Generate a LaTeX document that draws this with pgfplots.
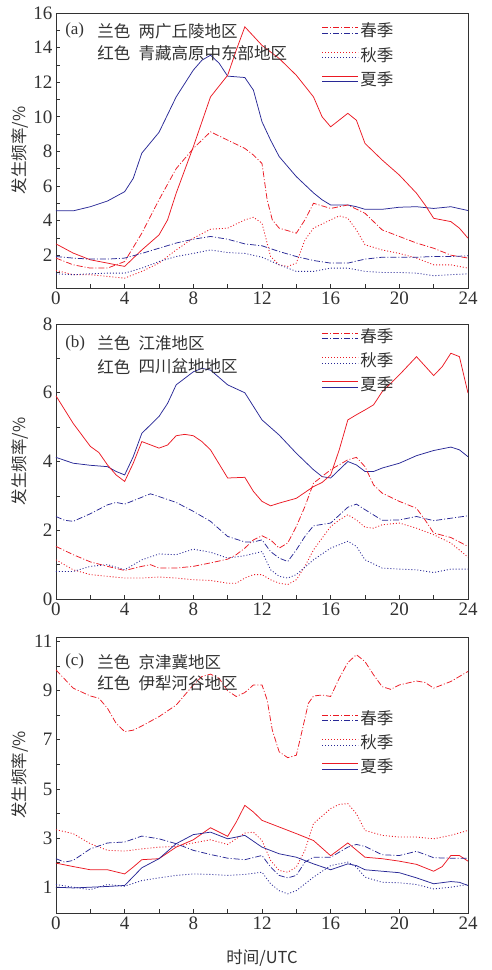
\documentclass[border=0pt]{standalone}
\usepackage{fontspec}
\setmainfont{Liberation Serif}
\newfontfamily\cjk{Noto Sans CJK SC}
\usepackage{pgfplots}
\pgfplotsset{compat=1.18}
\definecolor{myred}{RGB}{235,25,35}
\definecolor{myblue}{RGB}{40,40,150}
\definecolor{txt}{RGB}{50,50,50}
\tikzset{
  sp/.style={line width=0.75pt, dash pattern=on 6pt off 2pt on 1pt off 2pt},
  au/.style={line width=0.85pt, dash pattern=on 1pt off 2pt},
  su/.style={line width=0.75pt},
}
\pgfplotsset{
  panel/.style={
    scale only axis, width=412pt, xmin=0, xmax=24,
    xtick={0,4,...,24}, minor xtick={2,6,...,22},
    xtick pos=bottom, ytick pos=left, tick align=inside,
    major tick length=4pt, minor tick length=4pt,
    every tick/.style={txt, line width=0.6pt},
    axis line style={txt, line width=0.8pt},
    /pgf/number format/assume math mode=true,
    tick label style={font=\fontsize{19}{19}\selectfont, text=txt},
    every axis y label/.style={at={(axis description cs:-0.087,0.5)}, rotate=90, anchor=center, font=\cjk\fontsize{16.5}{16.5}\selectfont, text=txt},
    ylabel={发生频率/\%},
    legend style={draw=none, fill=none, font=\cjk\fontsize{16.5}{16.5}\selectfont, text=txt, row sep=6pt, inner sep=0pt, nodes={inner sep=1.5pt}},
    legend cell align=left,
  },
}
\newcommand{\leg}{%
  \addlegendimage{legend image code/.code={\draw[myred,sp] (0pt,3pt)--(36pt,3pt); \draw[myblue,sp] (0pt,-2.5pt)--(36pt,-2.5pt);}}
  \addlegendentry{春季}
  \addlegendimage{legend image code/.code={\draw[myred,au] (0pt,3pt)--(36pt,3pt); \draw[myblue,au] (0pt,-2.5pt)--(36pt,-2.5pt);}}
  \addlegendentry{秋季}
  \addlegendimage{legend image code/.code={\draw[myred,su] (0pt,3pt)--(36pt,3pt); \draw[myblue,su] (0pt,-2.5pt)--(36pt,-2.5pt);}}
  \addlegendentry{夏季}
}
\newcommand{\ann}[3]{%
  \node[anchor=west, font=\fontsize{17}{17}\selectfont, text=txt, inner sep=0pt] at (axis description cs:0.022,#1) {(#2)};
  \node[anchor=west, font=\cjk\fontsize{16.5}{16.5}\selectfont, text=txt, inner sep=0pt] at (axis description cs:0.1,#1) {兰色};
  \node[anchor=west, font=\cjk\fontsize{16.5}{16.5}\selectfont, text=txt, inner sep=0pt] at (axis description cs:0.2,#1) {#3};
}
\newcommand{\annb}[2]{%
  \node[anchor=west, font=\cjk\fontsize{16.5}{16.5}\selectfont, text=txt, inner sep=0pt] at (axis description cs:0.1,#1) {红色};
  \node[anchor=west, font=\cjk\fontsize{16.5}{16.5}\selectfont, text=txt, inner sep=0pt] at (axis description cs:0.2,#1) {#2};
}
\begin{document}
\begin{tikzpicture}
\path[use as bounding box] (-56pt,13pt) rectangle (435pt,-957pt);
% ---------------- (a)
\begin{axis}[panel, at={(0pt,0pt)}, anchor=north west, height=275pt,
  ymin=0.1, ymax=16, ytick={2,4,...,16}, minor ytick={1,3,...,15},
  legend style={at={(axis description cs:0.645,0.97)}, anchor=north west}]
\leg
\addplot[myblue,su,forget plot] coordinates {(0,4.56)(1,4.56)(2,4.8)(3,5.13)(4,5.67)(4.5,6.44)(5,7.9)(6,9.1)(7,11.15)(8,12.7)(8.5,13.27)(9,13.56)(9.5,13.1)(10,12.35)(11,12.27)(11.5,11.54)(12,9.71)(12.5,8.65)(13,7.7)(14,6.54)(15,5.6)(15.5,5.2)(16,4.9)(17,4.9)(17.5,4.8)(18,4.65)(19,4.65)(20,4.77)(21,4.8)(22,4.7)(23,4.8)(24,4.58)};
\addplot[myred,su,forget plot] coordinates {(0,2.65)(1,2.12)(2,1.73)(3,1.54)(3.5,1.44)(4,1.35)(5,2.3)(6,3.17)(6.5,4.04)(7,5.58)(8,8.27)(9,11.15)(10,12.4)(10.5,13.85)(11,15.2)(12,14.13)(13,13.37)(14,12.4)(15,11.15)(15.5,10)(16,9.42)(17,10.2)(17.5,9.8)(18,8.46)(19,7.5)(20,6.63)(21,5.58)(21.5,4.9)(22,4.13)(23,3.94)(23.5,3.56)(24,2.98)};
\addplot[myred,sp,forget plot] coordinates {(0,1.83)(1,1.44)(2,1.25)(3,1.25)(4,1.63)(5,3.27)(6,5.2)(7,7.0)(8,8.17)(9,9.13)(10,8.65)(11,8.17)(11.5,7.79)(12,7.3)(12.3,5.2)(12.6,4.04)(13,3.56)(14,3.27)(14.5,4.04)(15,5.0)(16,4.7)(17,4.9)(18,4.42)(19,3.46)(20,3.08)(21,2.7)(22,2.4)(23,2.0)(24,1.83)};
\addplot[myred,au,forget plot] coordinates {(0,1.12)(1,0.87)(2,0.87)(3,0.77)(4,0.67)(5,1.06)(6,1.54)(7,2.3)(8,2.98)(9,3.5)(10,3.56)(11,4.04)(11.5,4.19)(12,3.85)(12.5,1.92)(13,1.44)(13.5,1.35)(14,1.54)(14.5,2.88)(15,3.56)(16,4.04)(16.5,4.27)(17,4.13)(17.5,3.46)(18,2.6)(19,2.3)(20,2.1)(21,1.83)(22,1.44)(23,1.44)(24,1.25)};
\addplot[myblue,sp,forget plot] coordinates {(0,1.92)(1,1.83)(2,1.77)(3,1.77)(4,1.83)(5,2.1)(6,2.4)(7,2.7)(8,2.92)(9,3.08)(10,2.92)(11,2.65)(12,2.54)(13,2.21)(14,1.92)(15,1.69)(16,1.54)(17,1.54)(18,1.77)(19,1.88)(20,1.88)(21,1.88)(22,1.92)(23,1.92)(24,1.96)};
\addplot[myblue,au,forget plot] coordinates {(0,0.92)(1,0.87)(2,0.92)(3,0.96)(4,0.96)(5,1.25)(6,1.63)(7,1.92)(8,2.1)(9,2.3)(10,2.15)(11,2.1)(12,1.88)(13,1.44)(14,1.06)(15,1.06)(16,1.25)(17,1.25)(18,1.06)(19,1.0)(20,1.0)(21,0.96)(22,0.81)(23,0.87)(24,0.92)};
\ann{0.935}{a}{两广丘陵地区}
\annb{0.855}{青藏高原中东部地区}
\end{axis}
% ---------------- (b)
\begin{axis}[panel, at={(0pt,-311pt)}, anchor=north west, height=275pt,
  ymin=0, ymax=8, ytick={0,2,...,8}, minor ytick={1,3,...,7},
  legend style={at={(axis description cs:0.645,0.99)}, anchor=north west}]
\leg
\addplot[myblue,su,forget plot] coordinates {(0,4.12)(1,3.95)(2,3.89)(3,3.85)(3.5,3.71)(4,3.61)(4.5,4.14)(5,4.82)(6,5.31)(6.5,5.69)(7,6.23)(8,6.61)(8.5,6.71)(9,6.66)(10,6.23)(11,6.0)(12,5.21)(13,4.77)(14,4.24)(15,3.76)(15.5,3.56)(16,3.52)(16.5,3.76)(17,4.0)(17.5,3.9)(18,3.71)(18.5,3.71)(19,3.81)(20,3.95)(21,4.17)(22,4.32)(23,4.42)(23.5,4.34)(24,4.14)};
\addplot[myred,su,forget plot] coordinates {(0,5.91)(1,5.11)(2,4.44)(2.5,4.26)(3,3.9)(3.5,3.61)(4,3.42)(4.5,3.95)(5,4.58)(6,4.39)(6.5,4.48)(7,4.75)(7.5,4.79)(8,4.75)(8.5,4.58)(9,4.34)(10,3.52)(11,3.54)(11.5,3.13)(12,2.84)(12.5,2.71)(13,2.79)(14,2.93)(15,3.27)(15.5,3.39)(16,3.61)(16.5,4.34)(17,5.21)(17.5,5.36)(18,5.5)(18.5,5.65)(19,6.03)(20,6.52)(21,7.05)(22,6.5)(22.5,6.76)(23,7.15)(23.5,7.05)(24,5.99)};
\addplot[myred,sp,forget plot] coordinates {(0,1.53)(1,1.29)(2,1.08)(3,0.95)(4,0.83)(5,0.95)(5.5,1.0)(6,0.9)(7,0.9)(8,0.95)(9,1.05)(10,1.16)(10.5,1.29)(11,1.48)(11.5,1.72)(12,1.84)(12.5,1.72)(13,1.48)(13.5,1.63)(14,2.11)(14.5,2.69)(15,3.37)(16,3.76)(17,4.05)(17.5,4.12)(18,3.85)(18.5,3.32)(19,3.08)(20,2.84)(21,2.64)(21.5,2.3)(22,1.92)(23,1.79)(24,1.53)};
\addplot[myred,au,forget plot] coordinates {(0,1.14)(1,0.85)(2,0.71)(3,0.66)(4,0.61)(5,0.61)(6,0.64)(7,0.61)(8,0.56)(9,0.54)(10,0.46)(10.5,0.46)(11,0.61)(11.5,0.71)(12,0.71)(12.5,0.56)(13,0.46)(13.5,0.42)(14,0.56)(14.5,0.95)(15,1.43)(16,2.11)(16.5,2.3)(17,2.45)(17.5,2.3)(18,2.09)(18.5,2.06)(19,2.16)(20,2.21)(21,2.06)(22,1.87)(23,1.63)(24,1.22)};
\addplot[myblue,sp,forget plot] coordinates {(0,2.4)(0.5,2.29)(1,2.26)(2,2.48)(3,2.74)(3.5,2.81)(4,2.76)(5,2.96)(5.5,3.06)(6,2.98)(7,2.81)(8,2.55)(9,2.26)(10,1.82)(11,1.66)(11.5,1.66)(12,1.72)(12.5,1.38)(13,1.19)(13.5,1.09)(14,1.43)(14.5,1.82)(15,2.13)(16,2.21)(17,2.67)(17.5,2.76)(18,2.6)(19,2.29)(20,2.3)(21,2.4)(22,2.28)(23,2.35)(24,2.42)};
\addplot[myblue,au,forget plot] coordinates {(0,0.8)(1,0.8)(2,0.95)(3,1.0)(4,0.85)(5,1.14)(6,1.31)(7,1.29)(8,1.45)(9,1.36)(10,1.19)(11,1.26)(12,1.38)(12.5,0.85)(13,0.66)(13.5,0.61)(14,0.71)(15,1.14)(16,1.48)(17,1.68)(17.5,1.53)(18,1.14)(19,0.9)(20,0.87)(21,0.85)(22,0.77)(23,0.87)(24,0.87)};
\ann{0.93}{b}{江淮地区}
\annb{0.845}{四川盆地地区}
\end{axis}
% ---------------- (c)
\begin{axis}[panel, at={(0pt,-624pt)}, anchor=north west, height=276pt,
  ymin=-0.05, ymax=11.18, ytick={1,3,...,11}, minor ytick={2,4,...,10},
  xlabel={时间/UTC},
  every axis x label/.style={at={(axis description cs:0.5,-0.163)}, anchor=center, font=\cjk\fontsize{16.5}{16.5}\selectfont, text=txt},
  legend style={at={(axis description cs:0.645,0.74)}, anchor=north west}]
\leg
\addplot[myred,sp,forget plot] coordinates {(0,9.84)(1,9.1)(2,8.78)(2.5,8.69)(3,8.28)(3.5,7.67)(4,7.33)(4.5,7.39)(5,7.56)(6,7.94)(7,8.41)(7.5,8.82)(8,9.23)(8.5,9.57)(9,9.67)(9.5,9.5)(10,8.99)(10.5,8.76)(11,8.92)(11.5,9.23)(12,9.23)(12.3,8.62)(12.6,7.39)(13,6.51)(13.5,6.27)(14,6.37)(14.3,7.26)(14.7,8.48)(15,8.78)(15.5,8.82)(16,8.76)(16.5,9.5)(17,10.14)(17.5,10.46)(18,10.18)(18.5,9.64)(19,9.16)(19.5,9.05)(20,9.23)(21,9.39)(21.5,9.33)(22,9.1)(23,9.37)(24,9.78)};
\addplot[myred,au,forget plot] coordinates {(0,3.34)(1,3.18)(2,2.77)(3,2.5)(4,2.47)(5,2.56)(6,2.63)(7,2.66)(8,2.8)(9,2.93)(10,2.74)(11,3.2)(11.5,3.24)(12,2.9)(12.5,2.09)(13,1.68)(13.5,1.61)(14,1.82)(14.5,2.5)(15,3.59)(16,4.2)(16.5,4.37)(17,4.4)(17.5,3.99)(18,3.31)(19,3.11)(20,3.04)(21,3.04)(22,2.97)(23,3.11)(24,3.31)};
\addplot[myred,su,forget plot] coordinates {(0,1.98)(1,1.84)(2,1.71)(3,1.71)(4,1.54)(4.5,1.82)(5,2.12)(6,2.16)(7,2.63)(8,2.93)(9,3.42)(10,3.07)(10.5,3.65)(11,4.33)(11.5,4.06)(12,3.72)(13,3.45)(14,3.18)(15,2.9)(16,2.28)(17,2.8)(18,2.22)(19,2.16)(20,2.06)(21,1.93)(22,1.65)(22.5,1.84)(23,2.29)(23.5,2.29)(24,2.06)};
\addplot[myblue,sp,forget plot] coordinates {(0,2.16)(0.5,2.02)(1,2.09)(2,2.56)(3,2.8)(4,2.84)(5,3.08)(6,2.97)(7,2.77)(8,2.5)(9,2.33)(10,2.18)(11,2.12)(12,2.29)(12.5,1.82)(13,1.48)(13.5,1.38)(14,1.48)(14.5,2.02)(15,2.22)(16,2.22)(17,2.63)(17.5,2.74)(18,2.66)(19,2.32)(20,2.29)(21,2.46)(22,2.2)(23,2.18)(24,2.18)};
\addplot[myblue,su,forget plot] coordinates {(0,1.0)(1,0.97)(2,1.0)(3,1.03)(4,1.07)(5,1.79)(6,2.16)(7,2.77)(8,3.14)(9,3.24)(10,2.97)(11,3.11)(12,2.63)(13,2.36)(14,2.22)(15,1.95)(16,1.71)(17,1.95)(17.5,1.88)(18,1.71)(19,1.65)(20,1.59)(21,1.38)(22,1.14)(23,1.23)(23.5,1.2)(24,1.07)};
\addplot[myblue,au,forget plot] coordinates {(0,1.11)(1,1.0)(2,0.9)(3,1.11)(4,1.04)(5,1.27)(6,1.38)(7,1.48)(8,1.54)(9,1.52)(10,1.48)(11,1.52)(12,1.61)(12.5,1.14)(13,0.86)(13.5,0.73)(14,0.86)(15,1.41)(16,1.88)(17,2.02)(17.5,1.82)(18,1.41)(19,1.2)(20,1.18)(21,1.11)(22,0.93)(23,1.0)(24,1.11)};
\ann{0.91}{c}{京津冀地区}
\annb{0.833}{伊犁河谷地区}
\end{axis}
\end{tikzpicture}
\end{document}
